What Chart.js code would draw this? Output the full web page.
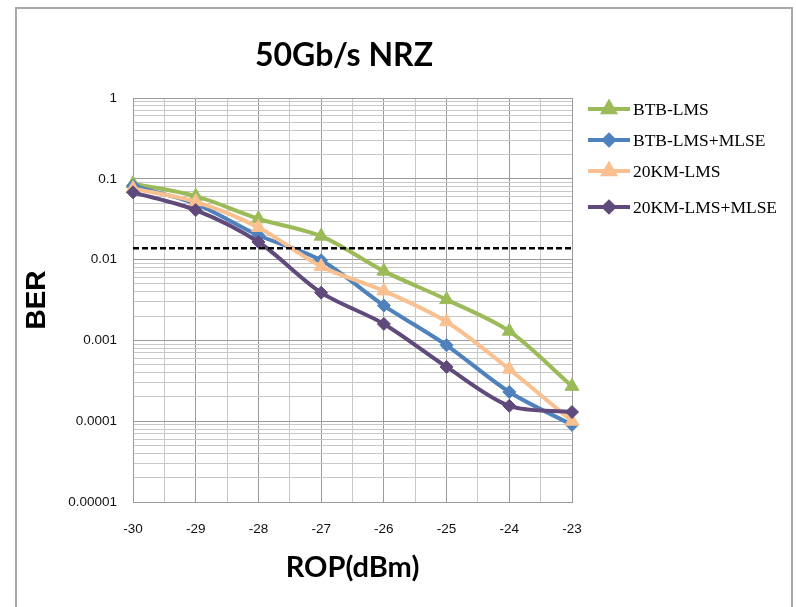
<!DOCTYPE html>
<html>
<head>
<meta charset="utf-8">
<script src="https://cdn.jsdelivr.net/npm/chart.js@4.4.1/dist/chart.umd.min.js"></script>
<style>
  html, body { margin: 0; padding: 0; background: #fff; }
  #wrap { width: 796px; height: 607px; }
</style>
</head>
<body>
<div id="wrap"><canvas id="berChart" width="796" height="607"></canvas></div>
<script>
// data
const rop = [-30, -29, -28, -27, -26, -25, -24, -23];
const btbLms      = [0.087, 0.061, 0.032, 0.0195, 0.0072, 0.0032, 0.0013, 0.00027];
const btbLmsMlse  = [0.082, 0.049, 0.020, 0.0098, 0.0027, 0.00087, 0.00023, 0.00009];
const km20Lms     = [0.076, 0.052, 0.025, 0.0082, 0.0041, 0.0017, 0.00044, 0.0001];
const km20LmsMlse = [0.068, 0.041, 0.0165, 0.0039, 0.0016, 0.00047, 0.000155, 0.00013];
const fecLimit = 0.0138;
const yTickLabels = ['0.00001', '0.0001', '0.001', '0.01', '0.1', '1'];

const GREEN = '#9BBB59';
const BLUE = '#4F81BD';
const ORANGE = '#FAC090';
const PURPLE = '#604A7B';
const MAJOR = '#9a9a9a';
const MINOR = '#c8c8c8';

const toPoints = (arr) => arr.map((v, i) => ({ x: rop[i], y: v }));
const isDecade = (v) => Math.abs(Math.log10(v) - Math.round(Math.log10(v))) < 1e-6;

const series = [
    { label: 'BTB-LMS', data: btbLms, color: GREEN, style: 'triangle', r: 8 },
    { label: 'BTB-LMS+MLSE', data: btbLmsMlse, color: BLUE, style: 'rectRot', r: 6.5 },
    { label: '20KM-LMS', data: km20Lms, color: ORANGE, style: 'triangle', r: 8 },
    { label: '20KM-LMS+MLSE', data: km20LmsMlse, color: PURPLE, style: 'rectRot', r: 6.5 }
];

// excel draws the last series on top
const datasets = series.map((s, i) => ({
    label: s.label,
    data: toPoints(s.data),
    borderColor: s.color,
    backgroundColor: s.color,
    borderWidth: 4,
    tension: 0.3,
    pointStyle: s.style,
    pointRadius: s.r,
    pointBorderWidth: 1,
    order: series.length - i,
    clip: false
}));
datasets.push({
    label: 'FEC',
    data: [{ x: rop[0], y: fecLimit }, { x: rop[rop.length - 1], y: fecLimit }],
    borderColor: '#000',
    borderWidth: 2.5,
    borderDash: [6, 3],
    pointRadius: 0,
    order: 0,
    clip: false
});

// frame, title and legend drawn on the canvas
const decor = {
    id: 'decor',
    beforeDraw(chart) {
        const ctx = chart.ctx;
        ctx.save();
        ctx.fillStyle = '#fff';
        ctx.fillRect(0, 0, chart.width, chart.height);
        ctx.strokeStyle = '#aaa';
        ctx.lineWidth = 2;
        ctx.strokeRect(16, 8, 776, 700);
        ctx.restore();
    },
    afterDraw(chart) {
        const ctx = chart.ctx;
        ctx.save();
        ctx.fillStyle = '#000';
        ctx.font = 'bold 32px Lato';
        ctx.textAlign = 'center';
        ctx.textBaseline = 'alphabetic';
        ctx.fillText('50Gb/s NRZ', 344, 66);

        const rows = [109, 140, 171, 207];
        series.forEach((s, i) => {
            const y = rows[i];
            ctx.strokeStyle = s.color;
            ctx.lineWidth = 4;
            ctx.beginPath();
            ctx.moveTo(588, y);
            ctx.lineTo(630, y);
            ctx.stroke();
            ctx.fillStyle = s.color;
            Chart.helpers.drawPoint(ctx, { pointStyle: s.style, radius: s.r - 1.5, rotation: 0, borderWidth: 1 }, 609, y);
            ctx.fillStyle = '#000';
            ctx.font = '17.5px "Liberation Serif"';
            ctx.textAlign = 'left';
            ctx.textBaseline = 'middle';
            ctx.fillText(s.label, 633, y + 1);
        });
        ctx.restore();
    }
};

new Chart(document.getElementById('berChart'), {
    type: 'line',
    data: { datasets },
    options: {
        responsive: false,
        animation: false,
        layout: { padding: { left: 16, right: 224, top: 98, bottom: 0 } },
        plugins: { legend: { display: false }, tooltip: { enabled: false } },
        scales: {
            x: {
                type: 'linear', min: -30, max: -23,
                afterFit: (scale) => { scale.height = 105; },
                border: { display: true, color: MAJOR, width: 1 },
                grid: {
                    drawTicks: false,
                    color: (c) => (c.tick && Number.isInteger(c.tick.value)) ? MAJOR : MINOR
                },
                ticks: {
                    stepSize: 0.5, autoSkip: false, maxRotation: 0, padding: 19,
                    color: '#111', font: { family: '"Liberation Sans"', size: 13.5 },
                    callback: (v) => Number.isInteger(v) ? String(v) : ''
                },
                title: {
                    display: true, text: 'ROP(dBm)', color: '#000',
                    font: { family: 'Lato', size: 29, weight: 'bold', lineHeight: 1 },
                    padding: { top: 0, bottom: 25 }
                }
            },
            y: {
                type: 'logarithmic', min: 0.00001, max: 1,
                afterFit: (scale) => { scale.width = 117; },
                afterBuildTicks: (scale) => {
                    const ticks = [];
                    yTickLabels.forEach((lab, k) => {
                        const base = Number(lab);
                        const top = k === yTickLabels.length - 1 ? 1 : 9;
                        for (let m = 1; m <= top; m++) ticks.push({ value: +(base * m).toPrecision(3) });
                    });
                    scale.ticks = ticks;
                },
                border: { display: true, color: MAJOR, width: 1 },
                grid: {
                    drawTicks: false,
                    color: (c) => (c.tick && isDecade(c.tick.value)) ? MAJOR : MINOR
                },
                ticks: {
                    autoSkip: false, padding: 16,
                    color: '#111', font: { family: '"Liberation Sans"', size: 13.5 },
                    callback: (v) => {
                        if (!isDecade(v)) return '';
                        const idx = Math.round(Math.log10(v)) + 5;
                        return yTickLabels[idx];
                    }
                },
                title: {
                    display: true, text: 'BER', color: '#000',
                    font: { family: '"Liberation Sans"', size: 28, weight: 'bold', lineHeight: 1 },
                    padding: { top: 7, bottom: 0 }
                }
            }
        }
    },
    plugins: [decor]
});
</script>
</body>
</html>
